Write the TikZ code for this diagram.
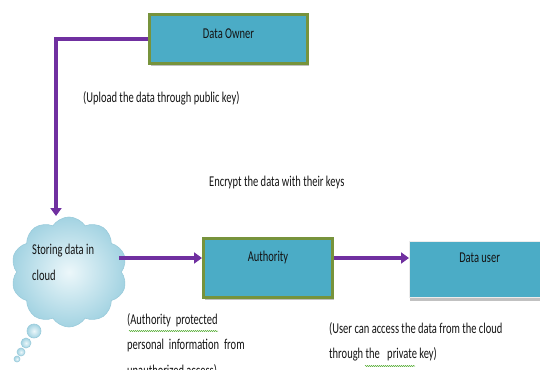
\documentclass[tikz,border=0pt]{standalone}
\usepackage{fontspec}
\setmainfont[FakeStretch=0.7]{Carlito}
\usetikzlibrary{arrows.meta,shapes.symbols,shadows,decorations.pathmorphing}
\definecolor{boxteal}{HTML}{4BACC6}
\definecolor{boxolive}{HTML}{77933C}
\definecolor{arrpurple}{HTML}{7030A0}
\definecolor{cloudout}{HTML}{A3D3E2}
\definecolor{cloudin}{HTML}{ECF7FA}
\definecolor{cloudline}{HTML}{9ACBDB}
\definecolor{txt}{HTML}{141414}
\definecolor{squig}{HTML}{5BAF3A}
\tikzset{
  every node/.style={font=\fontsize{15}{25.5}\selectfont, text=txt},
  greenbox/.style={draw=boxolive, line width=3pt, fill=boxteal, inner sep=0pt,
    drop shadow={shadow xshift=1.5pt, shadow yshift=-2.5pt, fill=black!35, opacity=.7}},
  plainbox/.style={draw=white!85!gray, line width=1.2pt, fill=boxteal, inner sep=0pt,
    drop shadow={shadow xshift=0pt, shadow yshift=-3pt, fill=black!35, opacity=.7}},
  arr/.style={draw=arrpurple, line width=3.2pt, -{Triangle[length=8pt,width=11pt]}},
  cloudstyle/.style={shade, inner color=cloudin, outer color=cloudout, draw=cloudline, line width=0.6pt},
  note/.style={anchor=west, align=left, inner sep=0pt},
  spell/.style={draw=squig, line width=0.5pt, decorate, decoration={snake, amplitude=0.6pt, segment length=2pt}},
}
\begin{document}
\begin{tikzpicture}[x=1pt,y=-1pt]
\useasboundingbox (0,0) rectangle (540,369);

% boxes
\node[greenbox, minimum width=158pt, text height=24.5pt, text depth=24.5pt] (owner) at (228.5,39) {Data Owner};
\node[greenbox, minimum width=129pt, text height=23pt, text depth=36pt] (auth) at (268,268) {Authority};
\node[plainbox, minimum width=140pt, text height=20.5pt, text depth=35.5pt, anchor=north west] (user) at (409,241) {Data user\hspace{16pt}};

% cloud
\node[cloud, cloud puffs=10, cloud puff arc=115, aspect=1.05, minimum width=116pt, minimum height=110pt, cloudstyle] (cloud) at (69,272) {};
\node[cloudstyle, circle, minimum size=14pt, inner sep=0pt] (b1) at (34,331) {};
\node[cloudstyle, circle, minimum size=10pt, inner sep=0pt] (b2) at (26,343) {};
\node[cloudstyle, circle, minimum size=8pt, inner sep=0pt] (b3) at (21,352) {};
\node[cloudstyle, circle, minimum size=6pt, inner sep=0pt] (b4) at (17,359) {};
\node[note] (ctext) at (32,262.5) {Storing data in\\cloud};

% connectors
\coordinate (ctop) at (56,216);
\draw[arr] (owner.west) -| (ctop);
\coordinate (cout) at (119,258);
\draw[arr] (cout) -- (cout -| auth.west);
\coordinate (aout) at ([yshift=10pt]auth.east);
\draw[arr] (aout) -- (aout -| user.west);

% labels
\node[note] (upl) at (83,98) {(Upload the data through public key)};
\node[note] (enc) at (209,182) {Encrypt the data with their keys};
\node[note, anchor=north west] (anote) at (127,313) {(Authority\, protected\\personal\, information\, from\\unauthorized access)};
\node[note, anchor=north west] (unote) at (329,322) {(User can access the data from the cloud\\through the\, \,private key)};

% spell-check squiggles
\draw[spell] (129,331) -- (218,331);
\draw[spell] (365,366) -- (415,366);
\end{tikzpicture}
\end{document}
